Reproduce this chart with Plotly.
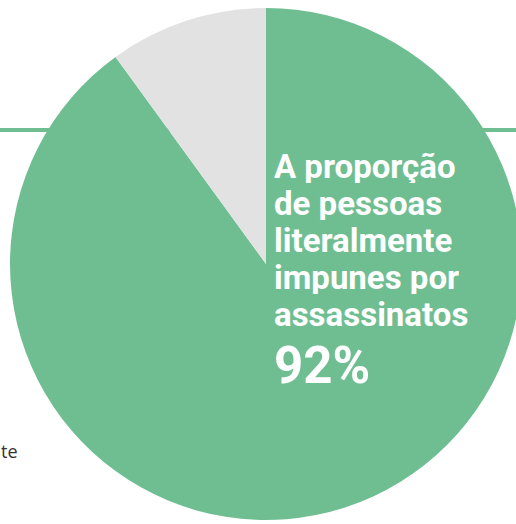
import plotly.graph_objects as go

# Data
categories = ["Impunes", "Outros"]
values = [90, 10]
colors = ["#6fbe92", "#e2e2e2"]
title_lines = ["A proporção", "de pessoas", "literalmente", "impunes por", "assassinatos"]
big_label = "92%"

W, H = 524, 524

fig = go.Figure(go.Pie(
    labels=categories,
    values=values,
    sort=False,
    direction="clockwise",
    rotation=0,
    marker=dict(colors=colors, line=dict(width=0)),
    textinfo="none",
    hoverinfo="label+percent",
    showlegend=False,
    domain=dict(x=[10 / W, 522 / W], y=[1 - 520 / H, 1 - 8 / H]),
))

# decorative green rule behind the pie
fig.add_shape(type="line", xref="paper", yref="paper", x0=0, x1=1,
              y0=1 - 130 / H, y1=1 - 130 / H, layer="below",
              line=dict(color="#6fbe92", width=4))

centers = [166, 203, 240, 277, 314]
heights = [34, 34, 34, 34, 28]
for line, cy, h in zip(title_lines, centers, heights):
    fig.add_annotation(text=line, xref="paper", yref="paper",
                       x=272 / W, y=1 - cy / H, xanchor="left", yanchor="middle",
                       height=h, showarrow=False,
                       font=dict(family="Roboto", size=33, color="white", weight="bold"))

fig.add_annotation(text=big_label, xref="paper", yref="paper",
                   x=272 / W, y=1 - 364.5 / H, xanchor="left", yanchor="middle",
                   height=42, showarrow=False,
                   font=dict(family="Roboto", size=51, color="white", weight="bold"))

fig.add_annotation(text="te", xref="paper", yref="paper",
                   x=-1 / W, y=1 - 451 / H, xanchor="left", yanchor="middle",
                   showarrow=False,
                   font=dict(family="Open Sans", size=18, color="#333333"))

fig.update_layout(width=W, height=H, margin=dict(l=0, r=0, t=0, b=0),
                  paper_bgcolor="white", plot_bgcolor="white")

fig.write_html("out.html", config={"displayModeBar": False},
               post_script="document.body.style.margin='0';document.body.style.overflow='hidden';")
